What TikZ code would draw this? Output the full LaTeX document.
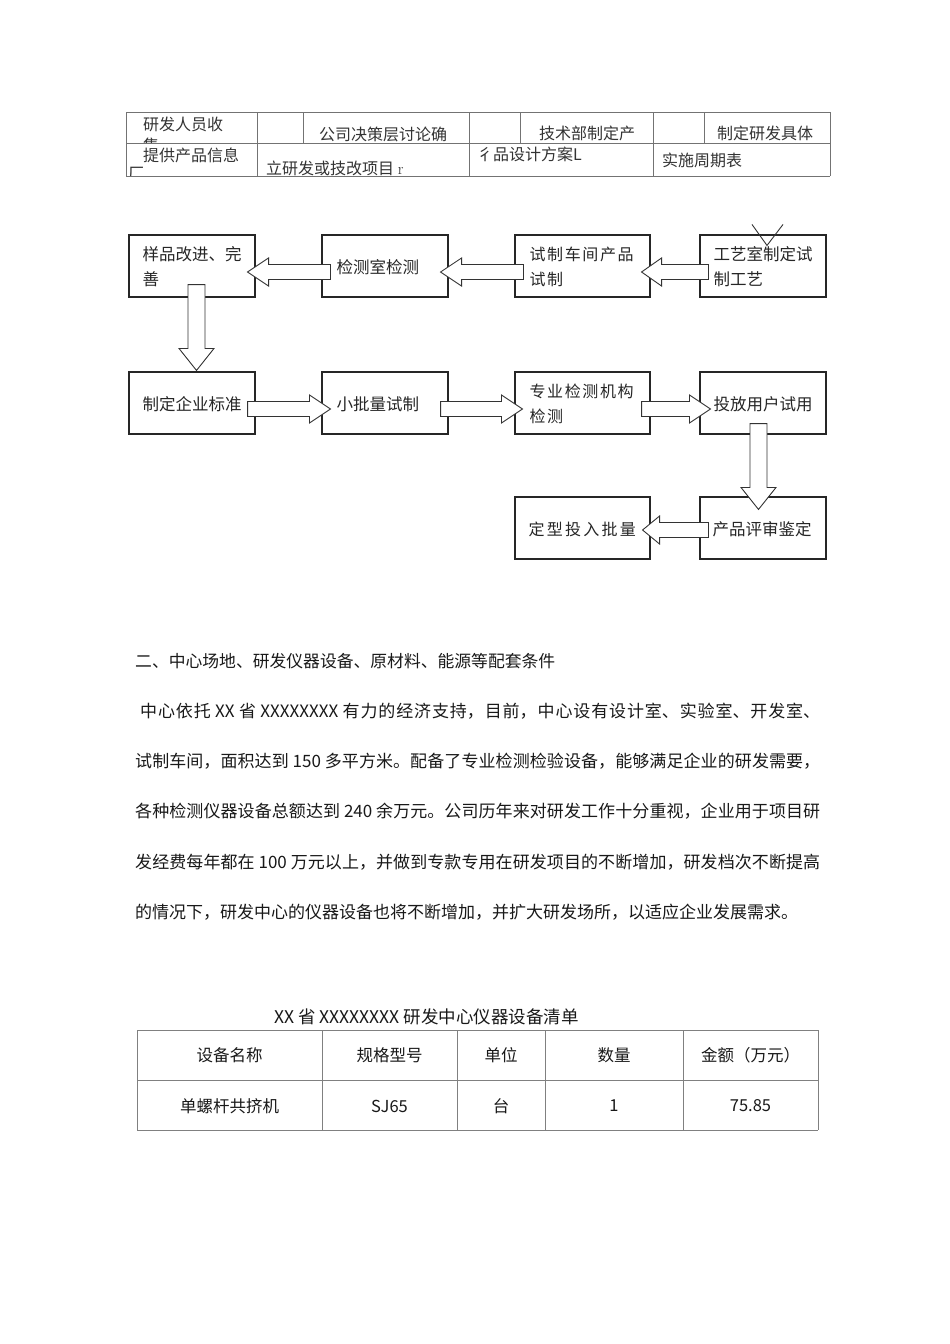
\documentclass[tikz,border=0pt]{standalone}
\usepackage{fontspec}
\newfontfamily\cjk{Noto Sans CJK SC}
\newfontfamily\cjkls[LetterSpace=10]{Noto Sans CJK SC}
\usetikzlibrary{calc}
\tikzset{
  flowbox/.style={draw=black!85, line width=1.1pt, minimum height=62pt, inner sep=0pt},
  ftext/.style={anchor=west, align=left, inner sep=0pt, text=black!85, font=\cjk\fontsize{16.5}{25}\selectfont},
  ftextw/.style={anchor=west, align=left, inner sep=0pt, text=black!85, font=\cjkls\fontsize{16}{25}\selectfont},
  barrow/.style={draw=black!80, fill=white, line width=0.9pt, line join=miter},
  tline/.style={draw=black!55, line width=0.9pt},
  ttext/.style={anchor=west, inner sep=0pt, text=black!80, font=\cjk\fontsize{16}{20}\selectfont},
  btext/.style={inner sep=0pt, text=black!90, font=\cjk\fontsize{16.5}{20}\selectfont},
  bline/.style={draw=black!50, line width=0.9pt},
}
% horizontal block arrow: #1 start, #2 tip, #3 signed head length
\newcommand\hblk[3]{%
  \draw[barrow] let \p1=(#1), \p2=(#2) in
   (\x1,\y1+7.5) -- (\x2+#3,\y1+7.5) -- (\x2+#3,\y1+14) -- (\x2,\y1)
   -- (\x2+#3,\y1-14) -- (\x2+#3,\y1-7.5) -- (\x1,\y1-7.5) -- cycle;}
% vertical block arrow pointing down: #1 start, #2 tip
\newcommand\vblk[2]{%
  \draw[barrow] let \p1=(#1), \p2=(#2) in
   (\x1-8.5,\y1) -- (\x1-8.5,\y2+22) -- (\x1-17.5,\y2+22) -- (\x1,\y2)
   -- (\x1+17.5,\y2+22) -- (\x1+8.5,\y2+22) -- (\x1+8.5,\y1) -- cycle;}
\begin{document}
\begin{tikzpicture}[x=1pt,y=-1pt]
\useasboundingbox[fill=white] (0,0) rectangle (950,1344);

% ---------- top table ----------
\draw[tline] (126,112) -- (830,112);
\draw[tline] (126,143) -- (830,143);
\draw[tline] (126,176) -- (830,176);
\foreach \xx in {126,257,469,653,830} \draw[tline] (\xx,112) -- (\xx,176);
\foreach \xx in {303,520,704} \draw[tline] (\xx,112) -- (\xx,143);

\node[ttext] (tt1) at (143,124) {研发人员收};
\begin{scope}
  \clip (127,113) rectangle (256,142.3);
  \node[ttext] (tt1b) at (143,145) {集};
\end{scope}
\node[ttext] (tt2) at (319,134) {公司决策层讨论确};
\node[ttext] (tt3) at (539,133) {技术部制定产};
\node[ttext] (tt4) at (717,133) {制定研发具体};
\node[ttext] (tt5) at (143,155) {提供产品信息};
\begin{scope}
  \clip (127,144) rectangle (256,175.3);
  \node[ttext] (tt5b) at (128,174) {厂};
\end{scope}
\node[ttext] (tt6) at (266,168) {立研发或技改项目 {\rmfamily r}};
\node[ttext] (tt7) at (477,154) {彳品设计方案L};
\node[ttext] (tt8) at (662,160) {实施周期表};

% ---------- flowchart boxes ----------
\node[flowbox, minimum width=126pt] (b1) at (192,266) {};
\node[flowbox, minimum width=126pt] (b2) at (385,266) {};
\node[flowbox, minimum width=135pt] (b3) at (582.5,266) {};
\node[flowbox, minimum width=126pt] (b4) at (763,266) {};
\node[flowbox, minimum width=126pt] (b5) at (192,403) {};
\node[flowbox, minimum width=126pt] (b6) at (385,403) {};
\node[flowbox, minimum width=135pt] (b7) at (582.5,403) {};
\node[flowbox, minimum width=126pt] (b8) at (763,403) {};
\node[flowbox, minimum width=135pt] (b9) at (582.5,528) {};
\node[flowbox, minimum width=126pt] (b10) at (763,528) {};

% incoming arrowhead from above
\coordinate (vin1) at ($(b4.north)+(-11,-10)$);
\coordinate (vin2) at ($(b4.north)+(20,-10)$);
\coordinate (vtip) at ($(b4.north)+(4,11)$);
\draw[black!80, line width=0.9pt] (vin1) -- (vtip) -- (vin2);

% ---------- block arrows ----------
\hblk{$(b2.west)+(9,6)$}{$(b1.east)+(-8,6)$}{21}
\hblk{$(b3.west)+(9,6)$}{$(b2.east)+(-8,6)$}{21}
\hblk{$(b4.west)+(9,6)$}{$(b3.east)+(-9,6)$}{20}
\hblk{$(b5.east)+(-8,6)$}{$(b6.west)+(9,6)$}{-21}
\hblk{$(b6.east)+(-8,6)$}{$(b7.west)+(8,6)$}{-21}
\hblk{$(b7.east)+(-9,6)$}{$(b8.west)+(11,6)$}{-21}
\hblk{$(b10.west)+(9,2)$}{$(b9.east)+(-8,2)$}{17}
\vblk{$(b1.south)+(4.5,-13)$}{$(b5.north)+(4.5,-1)$}
\vblk{$(b8.south)+(-4.5,-11)$}{$(b10.north)+(-4.5,13)$}

% ---------- box texts ----------
\node[ftext]  (t1) at ($(b1.west)+(14,0.5)$) {样品改进、完\\善};
\node[ftext]  (t2) at ($(b2.west)+(15,1)$) {检测室检测};
\node[ftextw] (t3) at ($(b3.west)+(15,0.5)$) {试制车间产品\\试制};
\node[ftext]  (t4) at ($(b4.west)+(14,0.5)$) {工艺室制定试\\制工艺};
\node[ftext]  (t5) at ($(b5.west)+(14,1)$) {制定企业标准};
\node[ftext]  (t6) at ($(b6.west)+(15,1)$) {小批量试制};
\node[ftextw] (t7) at ($(b7.west)+(15,1)$) {专业检测机构\\检测};
\node[ftext]  (t8) at ($(b8.west)+(14,1)$) {投放用户试用};
\node[anchor=west, inner sep=0pt, text=black!85, font={\cjk\addfontfeature{LetterSpace=14}\fontsize{16}{20}\selectfont}] (t9) at ($(b9.west)+(14,1)$) {定型投入批量};
\node[ftext]  (t10) at ($(b10.west)+(13,1)$) {产品评审鉴定};

% ---------- section text ----------
\node[anchor=west, inner sep=0pt, text=black!90, font=\cjk\fontsize{16.8}{20}\selectfont] (h2) at (135,661) {二、中心场地、研发仪器设备、原材料、能源等配套条件};

\node[anchor=base west, inner sep=0pt, text width=685pt, align=justify, text=black!90,
      font=\cjk\fontsize{17}{50.2}\selectfont] (para) at (135,717.5)
 {\XeTeXlinebreaklocale "zh"\XeTeXlinebreakskip=0pt plus 3pt\hspace*{5pt}中心依托 XX 省 XXXXXXXX 有力的经济支持，目前，中心设有设计室、实验室、开发室、\linebreak
 试制车间，面积达到 150 多平方米。配备了专业检测检验设备，能够满足企业的研发需要，\linebreak
 各种检测仪器设备总额达到 240 余万元。公司历年来对研发工作十分重视，企业用于项目研\linebreak
 发经费每年都在 100 万元以上，并做到专款专用在研发项目的不断增加，研发档次不断提高\linebreak
 的情况下，研发中心的仪器设备也将不断增加，并扩大研发场所，以适应企业发展需求。};

% ---------- bottom table ----------
\node[btext, font=\cjk\fontsize{17.5}{20}\selectfont] (ttl) at (426.5,1017) {XX 省 XXXXXXXX 研发中心仪器设备清单};
\draw[bline] (137,1030) -- (818,1030);
\draw[bline] (137,1080) -- (818,1080);
\draw[bline] (137,1130) -- (818,1130);
\foreach \xx in {137,322,457,545,683,818} \draw[bline] (\xx,1030) -- (\xx,1130);
\node[btext] (c11) at (229.5,1055) {设备名称};
\node[btext] (c12) at (389.5,1055) {规格型号};
\node[btext] (c13) at (501,1055) {单位};
\node[btext] (c14) at (614,1055) {数量};
\node[btext] (c15) at (750.5,1055) {金额（万元）};
\node[btext] (c21) at (229.5,1106) {单螺杆共挤机};
\node[btext] (c22) at (389.5,1106) {SJ65};
\node[btext] (c23) at (501,1106) {台};
\node[btext] (c24) at (614,1106) {1};
\node[btext] (c25) at (750.5,1106) {75.85};
\end{tikzpicture}
\end{document}
